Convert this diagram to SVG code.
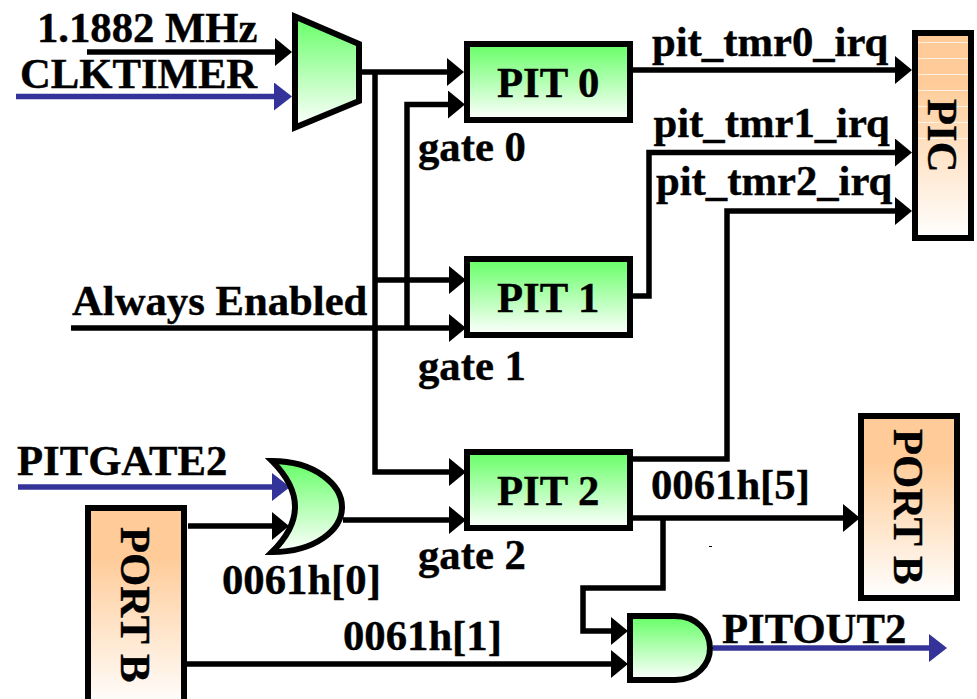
<svg xmlns="http://www.w3.org/2000/svg" width="977" height="699" viewBox="0 0 977 699">
<defs>
<linearGradient id="g" x1="0" y1="0" x2="0" y2="1"><stop offset="0" stop-color="#66ff66"/><stop offset="1" stop-color="#ffffff"/></linearGradient>
<linearGradient id="o" x1="0" y1="0" x2="0" y2="1"><stop offset="0" stop-color="#ffcc99"/><stop offset="0.25" stop-color="#ffcc99"/><stop offset="1" stop-color="#ffffff"/></linearGradient>
<marker id="k" markerUnits="userSpaceOnUse" viewBox="0 0 17 28" markerWidth="17" markerHeight="28" refX="3" refY="14" orient="auto"><polygon points="0,0 17,14 0,28" fill="#000"/></marker>
<marker id="b" markerUnits="userSpaceOnUse" viewBox="0 0 18 28" markerWidth="18" markerHeight="28" refX="4" refY="14" orient="auto"><polygon points="0,0 18,14 0,28" fill="#333399"/></marker>
</defs>
<style>
.n{stroke:#000;stroke-width:6;fill:url(#g)}
.p{stroke:#000;stroke-width:6;fill:url(#o)}
.w{fill:none;stroke:#000;stroke-width:5.500;marker-end:url(#k)}
.u{fill:none;stroke:#333399;stroke-width:5.500;marker-end:url(#b)}
text{font-family:"Liberation Serif","Times New Roman",serif;font-weight:bold;font-size:42.700px;fill:#000;stroke:#000;stroke-width:0.400}
</style>
<rect width="977" height="699" fill="#fff"/>
<g id="connectors">
<path class="w" d="M87 52H278"/>
<path class="u" d="M16 96.500H278"/>
<path class="w" d="M362 72H450"/>
<path class="w" d="M375 72V472H452"/>
<path class="w" d="M375 280H452"/>
<path class="w" d="M71 328H452"/>
<path class="w" d="M407 328V104.500H451"/>
<path class="w" d="M630 70H898"/>
<path class="w" d="M633 296H649V152.500H898"/>
<path class="w" d="M633 459H727V211H898"/>
<path class="w" d="M633 518H846"/>
<path class="w" d="M663 518V588H583V631H614"/>
<path class="w" d="M184 664H614"/>
<path class="u" d="M713 648H933"/>
<path class="u" d="M18 487H276"/>
<path class="w" d="M188 526H275"/>
<path class="w" d="M343 520H452"/>
</g>
<g id="mux"><polygon class="n" points="295,16.500 359,44 359,101 295,127.500"/></g>
<g id="pit0"><rect class="n" x="467" y="44" width="163" height="76"/><text x="497" y="97">PIT 0</text></g>
<g id="pit1"><rect class="n" x="467" y="259" width="163" height="76"/><text x="497" y="312">PIT 1</text></g>
<g id="pit2"><rect class="n" x="467" y="452" width="163" height="76"/><text x="497" y="505">PIT 2</text></g>
<g id="pic"><rect class="p" x="915" y="33" width="56" height="205"/><path d="M918 42.500H968M918 58.500H968M918 74.500H968M918 90.500H968M918 106.500H968M918 122.500H968M918 138.500H968" stroke="#fff" stroke-width="1" stroke-opacity="0.7" fill="none"/><text transform="translate(928 99) rotate(90)">PIC</text></g>
<g id="portb-left"><rect class="p" x="88" y="508" width="96" height="200"/><text transform="translate(121 527) rotate(90)">PORT B</text></g>
<g id="portb-right"><rect class="p" x="861" y="416" width="96" height="182"/><text transform="translate(894 429) rotate(90)">PORT B</text></g>
<g id="or-gate"><path class="n" d="M272 461C315 461 342 485 342 507C342 530 315 552 272 552Q318 507 272 461Z"/></g>
<g id="and-gate"><path class="n" d="M630 616H675C697 616 710 632 710 648C710 664 697 680 675 680H630Z"/></g>
<g id="labels">
<text x="37" y="42">1.1882 MHz</text>
<text x="20" y="88">CLKTIMER</text>
<text x="72" y="315">Always Enabled</text>
<text x="418" y="161">gate 0</text>
<text x="418" y="380">gate 1</text>
<text x="418" y="569">gate 2</text>
<text x="652" y="56">pit_tmr0_irq</text>
<text x="653.500" y="137">pit_tmr1_irq</text>
<text x="656" y="195">pit_tmr2_irq</text>
<text x="17" y="475">PITGATE2</text>
<text x="222" y="594">0061h[0]</text>
<text x="343" y="650">0061h[1]</text>
<text x="651" y="499">0061h[5]</text>
<text x="722" y="643">PITOUT2</text>
</g>
<rect x="709" y="546" width="3" height="1" fill="#000"/>
</svg>
